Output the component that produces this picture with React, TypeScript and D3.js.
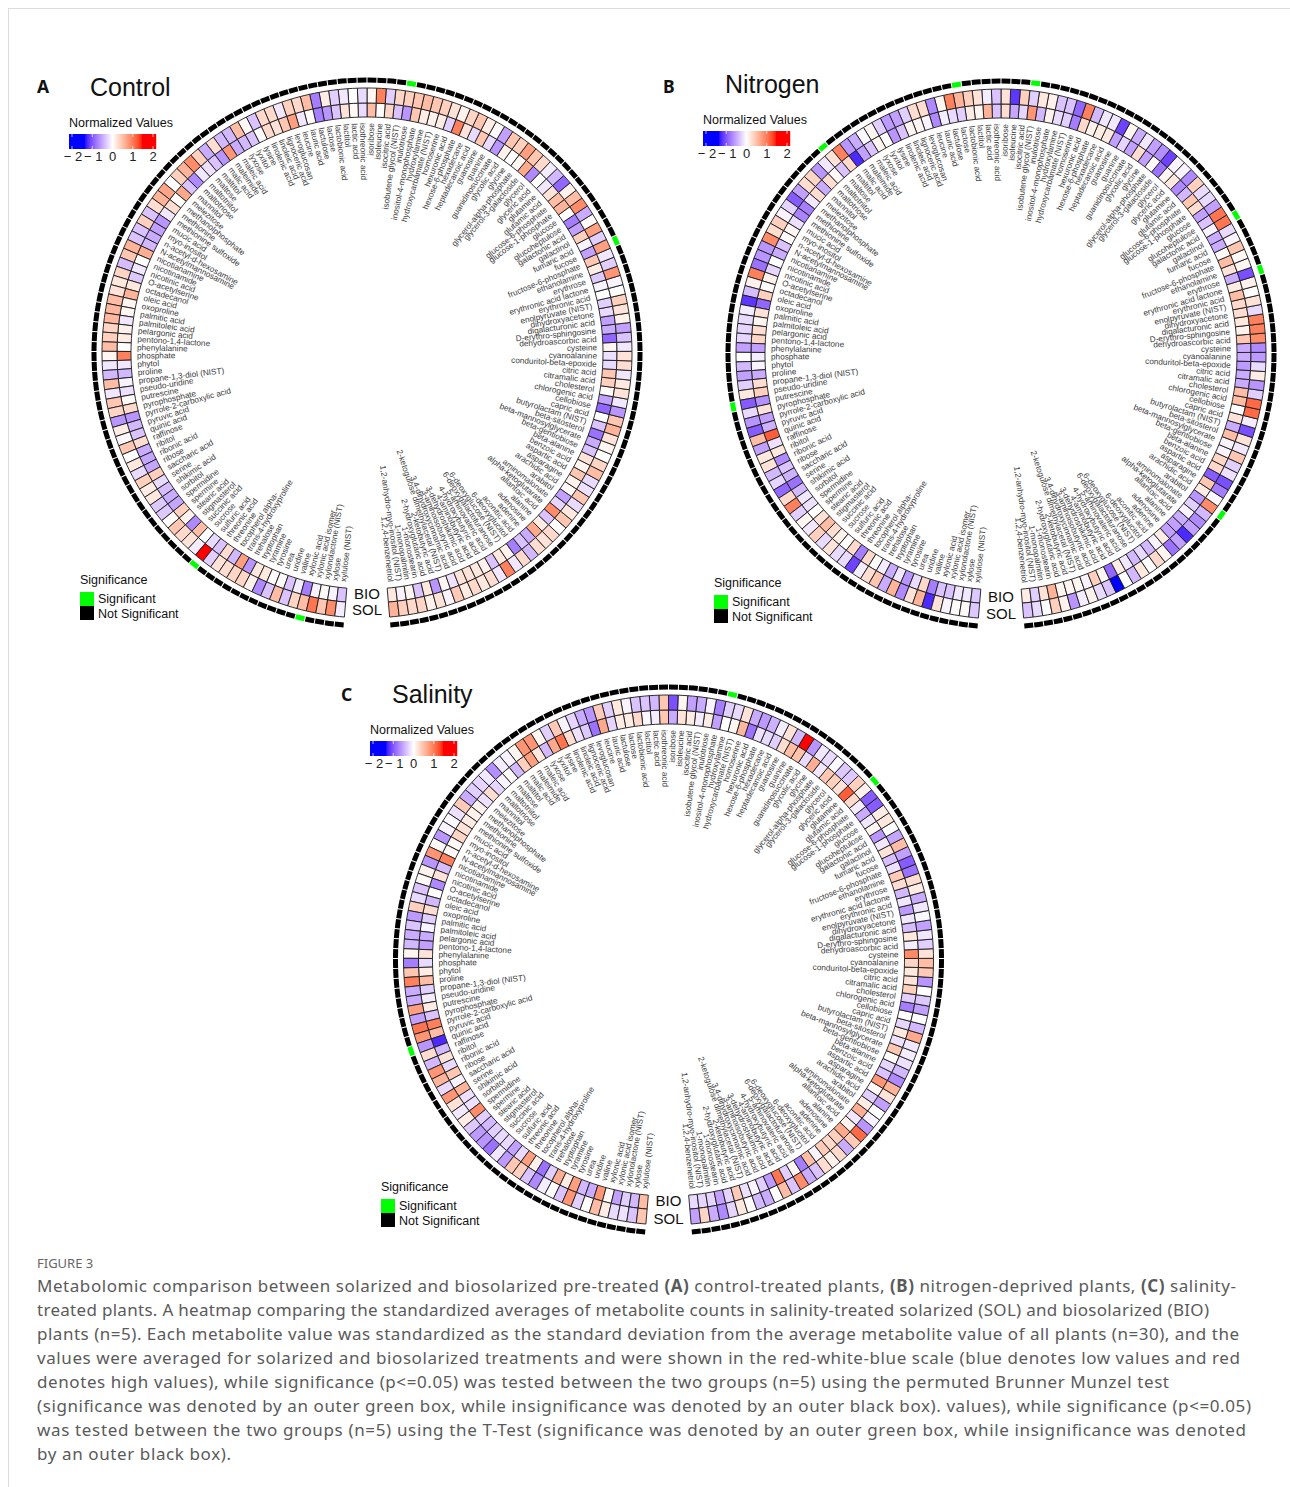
import React from "react";
import * as d3 from "d3";

const metabolites = [
  "1,2,4-benzenetriol","1,2-anhydro-myo-inositol (NIST)","1-monopalmitin","1-monostearin","2-hydroxyglutaric acid","2-ketobutyric acid","2-ketogulose dimethylacetal (NIST)","3,4-dihydroxycinnamic acid","3-aminoisobutyric acid","3-dehydroshikimic acid",
  "4-aminobutyric acid","4-hydroxybutyric acid","5-aminovaleric acid","6-deoxygalactofuranose","6-deoxyglucose (NIST)","6-deoxyglucitol","aconitic acid","adenine","adenosine","alanine",
  "allantoic acid","alpha-ketoglutarate","aminomalonate","arabitol","arachidic acid","asparagine","aspartic acid","benzoic acid","beta-alanine","beta-gentiobiose",
  "beta-mannosylglycerate","beta-sitosterol","butyrolactam (NIST)","capric acid","cellobiose","chlorogenic acid","cholesterol","citramalic acid","citric acid","conduritol-beta-epoxide",
  "cyanoalanine","cysteine","dehydroascorbic acid","D-erythro-sphingosine","digalacturonic acid","dihydroxyacetone","enolpyruvate (NIST)","erythronic acid","erythronic acid lactone","erythrose",
  "ethanolamine","fructose-6-phosphate","fucose","fumaric acid","galactinol","galactonic acid","glucoheptulose","glucose","glucose-1-phosphate","glucose-6-phosphate",
  "glutamic acid","glutamine","glyceric acid","glycerol","glycerol-3-galactoside","glycerol-alpha-phosphate","glycine","glycolic acid","guanidinosuccinate","guanine",
  "guanosine","heptadecanoic acid","hexadecane","hexose-6-phosphate","hexuronic acid","homoserine","hydroxycarbamate (NIST)","hydroxylamine","inositol-4-monophosphate","inulotriose",
  "isobutene glycol (NIST)","isocitric acid","isoleucine","isoribose","isothreonic acid","lactic acid","lactitol","lactobionic acid","lactose","lactulose",
  "lauric acid","leucine","levoglucosan","lignoceric acid","linoleic acid","linolenic acid","lysine","lyxitol","lyxose","maleic acid",
  "maleimide","malic acid","maltitol","maltose","maltotriitol","maltotriose","mannitol","melezitose","methanolphosphate","methionine",
  "methionine sulfoxide","mucic acid","myo-inositol","n-acetyl-d-hexosamine","N-acetylmannosamine","nicotianamine","nicotinamide","nicotinic acid","O-acetylserine","octadecanol",
  "oleic acid","oxoproline","palmitic acid","palmitoleic acid","pelargonic acid","pentono-1,4-lactone","phenylalanine","phosphate","phytol","proline",
  "propane-1,3-diol (NIST)","pseudo-uridine","putrescine","pyrophosphate","pyrrole-2-carboxylic acid","pyruvic acid","quinic acid","raffinose","ribitol","ribonic acid",
  "ribose","saccharic acid","serine","shikimic acid","sorbitol","spermidine","spermine","stearic acid","stigmasterol","succinic acid",
  "sucrose","sulfuric acid","threonic acid","threonine","tocopherol alpha-","trans-4-hydroxyproline","trehalose","tryptophan","tyramine","tyrosine",
  "urea","uridine","valine","xylonic acid","xylonic acid isomer","xylonolactone (NIST)","xylose","xylulose (NIST)",
];

const controlBio = [
  .25,-.1,.1,-.5,.25,-.9,.1,-.25,.3,.3,.25,.15,-.5,.25,.15,-1.1,-.5,-.7,.9,.2,-.5,1.2,-.35,-.8,.05,.15,.6,.1,.3,-.5,-.7,-1.2,-.5,0,-1.3,-.8,.02,.5,.6,-.3,-.25,.1,
  -1.3,-.7,-.8,-.3,-.4,0,-.1,-.45,.2,.6,-.8,-.1,.5,-.8,-1.1,0,.8,.7,.3,-.2,0,-1,.9,.1,0,.15,-.9,-.3,.6,-.3,.3,1.3,-.4,.2,.15,.2,.6,-.9,-.5,.45,.02,.7,
  -.3,.08,.3,-.5,-.9,-1.1,.05,-.2,1,.6,.3,.4,.02,-.5,-.6,-.7,1.1,-.9,-.5,-.25,-.2,-1,-.5,.9,.03,.35,-.2,-.9,-.8,-.7,-.6,.85,0,-.2,-.45,.25,.8,.1,.1,-.2,.15,.2,0,
  1.3,-.2,-.6,-.1,-.25,.05,.4,-.9,-.6,-.5,.35,-.7,-.75,-.75,.5,-.3,-.55,-.7,-.75,.5,.15,-1,.7,0,-.3,-.5,.35,-.6,1,-.9,.25,.25,.03,.03,-.5,-.15,-1.1,-.1,.05,-.1,-.5,
];
const controlSol = [
  .8,.5,.4,.45,.15,.3,-.1,.55,.2,.4,.25,.35,-.2,1.3,-.2,.4,-.6,.35,.3,.4,0,.6,.25,-.3,.6,-.25,-.3,.7,.45,0,.1,.3,.8,.6,-.9,-.2,.3,.25,-.2,.35,.3,-.2,
  -.5,-.8,.15,.3,.5,0,-.1,1.1,-.4,-.2,1,-.4,1,.05,-.7,1.2,.7,.15,-1.3,-.6,-.15,.4,.6,1,.5,.6,-.8,.05,.2,.6,.45,.15,.3,.5,.6,.7,.6,.5,.45,-.4,1.3,.1,
  -.3,0,-.2,-.4,.2,-1.1,.7,.4,.5,-.2,.4,.4,-.5,.08,.7,-.6,-.6,.35,-.7,.5,1.2,.8,.5,0,.95,.8,.35,-.5,.5,-.5,-.5,.8,.6,-.55,.45,.25,.3,.7,.75,.75,.45,.5,.7,
  .1,-.2,-.6,.7,-.2,.6,.45,-.9,.2,-.05,.6,0,.25,-.3,.5,.2,.25,-.45,-.45,.03,.6,.4,.3,-.15,2,-.4,.3,.35,.45,.45,.15,-1,-.5,.7,-.5,.45,.7,1.4,.6,1.2,-.15,
];
const nitrogenBio = [
  .2,-.4,.3,.8,.1,.1,.1,-.1,.5,.1,-1.3,.2,-.2,-.6,-.3,-.6,-.1,.2,-.8,-.8,-.7,-.1,-.4,-.9,.2,.6,-1.4,.4,.45,-.1,-.1,.7,-.7,.3,0,.7,.7,-.7,-.7,-.85,-.7,-.7,
  .6,.15,.25,.35,.4,.7,.2,-.7,.3,.7,.05,-.7,-.7,-.1,-.5,-.8,.35,.6,-.6,-1,.25,.1,-1.2,.05,-.8,.35,-.8,-.35,-.8,.25,.2,.15,.4,-1.1,-.4,-.3,.15,-.6,1.1,-.35,-.75,.35,
  -.5,.8,.1,.2,-.4,-.3,-.15,-1,-.1,.1,.1,-.5,-.9,.02,.1,-.5,-.8,-1.8,.4,-.5,.05,.35,-.7,.35,-.2,-1.1,-1.05,-.25,.1,.03,-.5,-.7,0,-.35,.15,.03,.5,-1.3,.3,.1,.35,.45,-.8,
  -.15,-.1,-.7,.35,.5,-.95,.3,-.8,-.65,1.6,-.25,.25,-1,-.5,-.65,-1.2,-.6,-.2,-.25,0,.3,.7,.35,.15,.03,.4,-1.1,.4,.02,-.15,-.7,-.2,-.9,-.3,.4,-1.1,-.5,-.5,-.2,-.2,-.45,
];
const nitrogenSol = [
  -.5,-.3,0,.5,.15,-.9,-.15,.15,-.3,-.5,-2,0,-.6,.25,0,.4,.1,-1.2,-.8,-1.8,-.8,-1,-.6,1.2,-.05,-1.1,-1.5,-.25,-.4,.6,-.2,.3,-1.5,-.15,1.5,1.5,-.4,-.9,.2,-.3,-.85,-1,
  1.2,1.3,1.3,-.3,.3,0,.15,-1.5,.1,.05,.6,-.1,-.3,1.4,1.4,-.8,-.3,-.3,.5,-1,-.1,-.1,-1.6,-.95,-.8,-.2,-.7,.1,-1.6,-.2,-.2,-.6,1.3,-1.3,-.5,-.5,.15,.25,-.4,.5,-1.7,.3,
  -.5,-.15,.3,.5,.8,1.3,.1,-1,.35,.35,-.4,-.8,-.85,-.4,.1,-.05,-.7,-.9,1.3,.3,-.2,-.9,.45,.35,-.8,-1.4,-.35,-.1,.5,.35,1.2,-.9,-.9,-1.2,1.3,.15,-.55,-1.7,-.15,-.3,-.35,-.35,-.8,
  0,-.6,-.8,-.4,.25,-1.4,-.3,-.9,-1.4,.7,-.8,.25,.3,-.6,-.35,-1.3,.4,1.3,-.4,.1,-.2,.5,-.3,.3,-.3,-.3,-1.6,-.15,.35,.6,-.7,.8,-1,.3,.8,-1.8,.3,-.1,.03,.05,-.45,
];
const salinityBio = [
  -.3,-.35,-.35,-.8,-.35,.55,-.25,-.1,-.4,-.85,1.4,-.4,.1,-1.1,.7,-.1,.55,.4,.5,.9,.15,-.2,.85,.2,-.4,.05,1.1,-.5,-.35,.02,.6,-.25,.25,-.35,0,-1.1,-.4,.5,.3,.25,.45,1.2,
  -.15,.25,-.55,-.2,-.85,-.2,-.6,.35,.55,-.25,-.55,.3,-.2,-.9,.1,-.2,-.7,-.15,.4,1.6,.3,.5,.6,-.2,.85,-.3,.65,.7,.35,-.4,-.3,-.25,-1.2,.75,.1,0,-.8,.2,-.15,.2,.3,-.7,
  .6,-.15,-.05,.4,.2,.2,-.35,.9,-1.2,-.45,-.25,.35,1.4,.9,-.6,.25,1,.5,-.6,.05,-.1,-.35,.35,-.25,.15,.15,.2,.3,.45,.05,.05,1.3,-.55,.3,-1,0,-.6,.35,-.4,-.1,-.7,-.8,.3,
  -.3,.2,.7,-.4,-.15,.2,-.5,1.3,.7,-1.8,-.6,.3,-.3,.6,-.1,.8,-.25,-.25,1.2,-.4,-.6,-.4,-.3,-.3,-.8,-.3,1,.15,-1.2,-.4,.85,.2,1,-.6,-.7,1.1,.05,-.8,-.4,-.6,.7,
];
const salinitySol = [
  -.8,.45,-.7,-1,-.35,.25,.03,-.6,-.7,0,.7,-.5,1.2,-.7,-.5,.35,.15,.4,-.7,.55,1.5,-.9,-.1,0,-.8,.3,.8,-1,-.6,-.25,-.15,-.2,.9,-.6,0,-.8,-.45,0,-.9,.55,.7,.3,
  -.4,-.2,-.8,-.05,-.2,-.7,.2,.35,-1.2,-1.4,-.8,.7,-.75,0,.25,.2,-1.4,-1.4,.15,.5,-.45,-.45,-.05,-.3,-.2,-.9,2,-.6,.3,-.15,-.65,-.85,-.7,.3,-.3,-.4,-1.1,-.1,-.7,-.8,.1,-1.5,
  .6,-.6,-.5,-.5,-.1,.25,-.4,.55,-.9,-.7,-.35,-.1,.55,-.4,.1,1.1,1.1,.1,-.1,-.15,-.95,-.2,-.35,-.4,-.7,.55,-.25,-.05,-.1,-.9,.05,1.1,-.9,.15,.05,-.5,-.3,.5,-.85,-.5,-.7,-.6,.1,
  -1.1,.6,1.3,-.7,-.7,1,-.8,1.4,1.1,-.9,.35,-.6,1.1,.8,-.3,1.1,.3,-.2,.2,-.45,-.85,-.9,-1.2,-.2,-.85,.6,.5,-.5,-1,-.15,0,-.5,1.1,-.4,.02,.7,.2,-.3,-.25,-.5,.6,
];

const controlSignificant = ["fucose", "inulotriose", "sulfuric acid", "xylonic acid"];
const nitrogenSignificant = ["arabitol", "erythrose", "galactonic acid", "isobutene glycol (NIST)", "lactose", "maltose", "putrescine"];
const salinitySignificant = ["glutamic acid", "hydroxylamine", "quinic acid"];

const legendTicks = [-2, -1, 0, 1, 2];
const captionLines = [
  "Metabolomic comparison between solarized and biosolarized pre-treated |(A)| control-treated plants, |(B)| nitrogen-deprived plants, |(C)| salinity-",
  "treated plants. A heatmap comparing the standardized averages of metabolite counts in salinity-treated solarized (SOL) and biosolarized (BIO)",
  "plants (n=5). Each metabolite value was standardized as the standard deviation from the average metabolite value of all plants (n=30), and the",
  "values were averaged for solarized and biosolarized treatments and were shown in the red-white-blue scale (blue denotes low values and red",
  "denotes high values), while significance (p<=0.05) was tested between the two groups (n=5) using the permuted Brunner Munzel test",
  "(significance was denoted by an outer green box, while insignificance was denoted by an outer black box). values), while significance (p<=0.05)",
  "was tested between the two groups (n=5) using the T-Test (significance was denoted by an outer green box, while insignificance was denoted",
  "by an outer black box).",
];
const captionEnds = [1236, 1209, 1239, 1240, 1169, 1251, 1246, 231];

const FONT = "'Liberation Sans', Arial, sans-serif";
const color = d3
  .scaleLinear<string>()
  .domain([-2, 0, 2])
  .range(["#0000ff", "#ffffff", "#ff0000"])
  .interpolate(d3.interpolateLab)
  .clamp(true);

const GAP = (4.9 * Math.PI) / 180;
const angle = d3.scaleBand<string>().domain(metabolites).range([Math.PI - GAP, -Math.PI + GAP]);
const sigAngle = d3.scaleBand<string>().domain(metabolites).range([Math.PI - GAP, -Math.PI + GAP]).paddingInner(0.1);

const R = { bio: [236, 250], sol: [250, 265], sig: [270.5, 275.5], label: 230 };

const cellArc = (name: string, r: number[], scale = angle) =>
  d3.arc()({
    innerRadius: r[0],
    outerRadius: r[1],
    startAngle: scale(name)!,
    endAngle: scale(name)! + scale.bandwidth(),
  } as any) as string;

function Ring({ values, radii }: { values: number[]; radii: number[] }) {
  return (
    <g stroke="#1a1a1a" strokeWidth={0.9}>
      {metabolites.map((m, i) => (
        <path key={m} d={cellArc(m, radii)} fill={color(values[i] ?? 0)} />
      ))}
    </g>
  );
}

function Labels() {
  return (
    <g fontFamily={FONT} fontSize={8.2} fill="#2a2a2a" opacity={0.92}>
      {metabolites.map((m) => {
        const mid = angle(m)! + angle.bandwidth() / 2;
        const deg = (mid * 180) / Math.PI - 90;
        const right = mid > 0;
        return (
          <text
            key={m}
            transform={`rotate(${deg}) translate(${R.label},0)${right ? "" : " rotate(180)"}`}
            textAnchor={right ? "end" : "start"}
            dy="0.35em"
          >
            {m}
          </text>
        );
      })}
    </g>
  );
}

function ColorLegend({ x, y }: { x: number; y: number }) {
  const lx = d3.scaleLinear().domain([-2, 2]).range([x + 3, x + 84]);
  const px = d3.range(x, x + 87);
  const warp = (p: number) => (p < 0 ? Math.max(-2, p * 1.45) : Math.min(2, p * 1.35));
  return (
    <g fontFamily={FONT}>
      <text x={x} y={y - 7} fontSize={12.5} fill="#111">
        Normalized Values
      </text>
      {px.map((p) => (
        <rect key={p} x={p} y={y} width={1.2} height={15} fill={color(warp(lx.invert(p + 0.5)))} />
      ))}
      {legendTicks.map((t) => (
        <g key={t} stroke="#fff" strokeWidth={0.7}>
          <line x1={lx(t)} x2={lx(t)} y1={y} y2={y + 3} />
          <line x1={lx(t)} x2={lx(t)} y1={y + 12} y2={y + 15} />
        </g>
      ))}
      {legendTicks.map((t) => (
        <text key={t} x={lx(t) + (t < 0 ? 1 : 0)} y={y + 27} fontSize={13} fill="#222" textAnchor="middle" xmlSpace="preserve">
          {t < 0 ? `\u2212 ${-t}` : t}
        </text>
      ))}
    </g>
  );
}

function SigLegend({ x, y }: { x: number; y: number }) {
  return (
    <g fontFamily={FONT} fontSize={12.5} fill="#111">
      <text x={x} y={y}>Significance</text>
      <rect x={x} y={y + 8} width={14} height={14} fill="#00ff00" />
      <rect x={x} y={y + 22} width={14} height={14} fill="#000" />
      <text x={x + 18} y={y + 19}>Significant</text>
      <text x={x + 18} y={y + 34}>Not Significant</text>
    </g>
  );
}

type PanelProps = {
  cx: number; cy: number; bio: number[]; sol: number[]; sig: string[];
  letter: string; letterX: number; letterY: number;
  title: string; titleX: number; titleY: number;
  legendX: number; legendY: number; sigX: number; sigY: number;
  bioY: number; solY: number;
};

function Panel(p: PanelProps) {
  return (
    <g>
      <text x={p.letterX} y={p.letterY} fontFamily="'Noto Sans', sans-serif" fontWeight={700} fontSize={17.5} fill="#111">{p.letter}</text>
      <text x={p.titleX} y={p.titleY} fontFamily={FONT} fontSize={25} fill="#111">{p.title}</text>
      <ColorLegend x={p.legendX} y={p.legendY} />
      <SigLegend x={p.sigX} y={p.sigY} />
      <g transform={`translate(${p.cx},${p.cy})`}>
        <Ring values={p.bio} radii={R.bio} />
        <Ring values={p.sol} radii={R.sol} />
        <g>
          {metabolites.map((m) => (
            <path key={m} d={cellArc(m, R.sig, sigAngle)} fill={p.sig.includes(m) ? "#00ff00" : "#000"} />
          ))}
        </g>
        <Labels />
      </g>
      <g fontFamily={FONT} fontSize={15} fill="#111" textAnchor="middle">
        <text x={p.cx} y={p.bioY}>BIO</text>
        <text x={p.cx} y={p.solY}>SOL</text>
      </g>
    </g>
  );
}

export default function App() {
  return (
    <svg width={1290} height={1487} viewBox="0 0 1290 1487" style={{ position: "absolute", left: 0, top: 0, background: "#fff" }}>
      <line x1={8} x2={1290} y1={8.5} y2={8.5} stroke="#dcdcdc" />
      <line x1={8.5} x2={8.5} y1={8} y2={1487} stroke="#dcdcdc" />
      <Panel cx={367} cy={353} bio={controlBio} sol={controlSol} sig={controlSignificant}
        letter="A" letterX={37} letterY={93} title="Control" titleX={90} titleY={96}
        legendX={69} legendY={134} sigX={80} sigY={584} bioY={599} solY={615} />
      <Panel cx={1001} cy={354} bio={nitrogenBio} sol={nitrogenSol} sig={nitrogenSignificant}
        letter="B" letterX={663} letterY={93} title="Nitrogen" titleX={725} titleY={93}
        legendX={703} legendY={131} sigX={714} sigY={587} bioY={602} solY={619} />
      <Panel cx={668.5} cy={960} bio={salinityBio} sol={salinitySol} sig={salinitySignificant}
        letter="C" letterX={341} letterY={701} title="Salinity" titleX={392} titleY={703}
        legendX={370} legendY={741} sigX={381} sigY={1191} bioY={1206} solY={1224} />
      <text x={37} y={1268} fontFamily="'Noto Sans', sans-serif" fontSize={13} fill="#666">FIGURE 3</text>
      <g fontFamily="'Noto Sans', sans-serif" fontSize={17} fill="#5a5a5a">
        {captionLines.map((line, i) => (
          <text key={i} x={37} y={1292 + i * 24} textLength={captionEnds[i] - 37} lengthAdjust="spacing">
            {line.split("|").map((s, j) => (
              <tspan key={j} fontWeight={j % 2 ? 700 : 400}>{s}</tspan>
            ))}
          </text>
        ))}
      </g>
    </svg>
  );
}
